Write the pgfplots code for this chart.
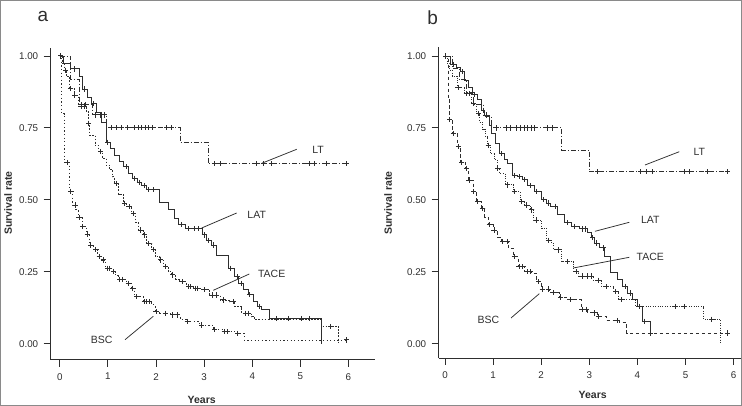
\documentclass[border=0pt]{standalone}
\usepackage{fontspec}
\setmainfont{Liberation Sans}
\usepackage{pgfplots}
\pgfplotsset{compat=1.18}
\definecolor{ink}{HTML}{2E2E2E}
\definecolor{frame}{HTML}{8A8A8A}
\pgfplotsset{
 kmaxis/.style={
  scale only axis, axis x line=bottom, axis y line=left,
  axis line style={-, ink, line width=0.9pt},
  xtick={0,1,2,3,4,5,6}, ytick={0,0.25,0.5,0.75,1},
  yticklabel style={xshift=-2pt, /pgf/number format/.cd, fixed, fixed zerofill, precision=2},
  /pgf/number format/assume math mode=true,
  tick align=outside, major tick length=7pt,
  tick style={ink, line width=0.9pt},
  ticklabel style={font=\fontsize{9.8}{12}\selectfont, text=ink},
  xticklabel style={yshift=-3pt},
  clip=false,
 },
 km/.style={const plot, ink, line width=0.9pt, line cap=butt, mark=none},
 cens/.style={only marks, mark=+, mark size=2.6pt, mark options={ink, solid, line width=0.95pt}},
 ltst/.style={dash pattern=on 5pt off 2pt on 1pt off 2pt},
}
\begin{document}
\begin{tikzpicture}
\useasboundingbox (0,0) rectangle (742pt,406pt);
\draw[frame, line width=1.2pt] (0.6pt,0.6pt) rectangle (741.4pt,405.4pt);

% ---------------- panel a ----------------
\begin{axis}[kmaxis, at={(50.7pt,46.3pt)}, anchor=south west,
  width=324.2pt, height=311.5pt, xmin=-0.19, xmax=6.55, ymin=-0.0556, ymax=1.027]
% LT
\addplot[km, ltst] coordinates {(0,1) (0.22,0.92) (0.40,0.83) (0.68,0.795) (0.97,0.75) (2.50,0.70) (3.08,0.625) (6.0,0.625)};
\addplot[cens] coordinates {(0.45,0.83) (0.53,0.83) (0.75,0.795) (0.84,0.795) (0.92,0.795)
 (1.07,0.75) (1.18,0.75) (1.28,0.75) (1.40,0.75) (1.56,0.75) (1.63,0.75) (1.70,0.75) (1.77,0.75) (1.85,0.75) (1.93,0.75) (2.22,0.75) (2.32,0.75)
 (3.22,0.625) (3.33,0.625) (4.09,0.625) (4.23,0.625) (4.40,0.625) (5.20,0.625) (5.30,0.625) (5.54,0.625) (5.96,0.625)};
% LAT
\addplot[km] coordinates {(0,1) (0.08,0.975) (0.22,0.955) (0.40,0.93) (0.47,0.885) (0.57,0.855) (0.66,0.835) (0.76,0.805) (0.87,0.77) (0.97,0.70) (1.05,0.68) (1.14,0.655) (1.23,0.635) (1.33,0.615) (1.42,0.59) (1.51,0.575) (1.61,0.56) (1.70,0.55) (1.80,0.535) (2.08,0.49) (2.25,0.466) (2.39,0.436) (2.46,0.413) (2.62,0.40) (2.97,0.378) (3.05,0.36) (3.15,0.343) (3.25,0.308) (3.50,0.262) (3.63,0.233) (3.72,0.21) (3.82,0.187) (3.92,0.17) (4.02,0.147) (4.10,0.13) (4.20,0.12) (4.35,0.088) (5.44,0.0)};
\addplot[cens] coordinates {(0.02,1.0) (0.30,0.955) (0.52,0.885) (0.70,0.835) (1.00,0.70) (1.38,0.615) (1.55,0.575) (1.65,0.56) (1.75,0.55) (1.85,0.535) (1.95,0.535) (2.53,0.413) (2.68,0.40) (2.80,0.40) (2.88,0.40) (3.00,0.378) (3.10,0.36) (3.20,0.343) (3.55,0.262) (3.70,0.233) (3.78,0.21) (3.95,0.17) (4.15,0.13) (4.50,0.088) (4.75,0.088) (5.02,0.088) (5.20,0.088)};
% TACE
\addplot[km, dash pattern=on 1.8pt off 1.3pt] coordinates {(0,1) (0.05,0.975) (0.10,0.95) (0.14,0.928) (0.20,0.886) (0.30,0.863) (0.38,0.826) (0.55,0.806) (0.59,0.766) (0.62,0.725) (0.73,0.69) (0.80,0.667) (0.89,0.644) (0.96,0.62) (1.04,0.604) (1.10,0.58) (1.14,0.557) (1.22,0.52) (1.32,0.488) (1.39,0.476) (1.49,0.453) (1.58,0.42) (1.63,0.395) (1.73,0.378) (1.80,0.349) (1.91,0.326) (1.98,0.302) (2.08,0.291) (2.15,0.268) (2.25,0.25) (2.32,0.239) (2.40,0.225) (2.49,0.215) (2.63,0.198) (2.77,0.193) (2.95,0.187) (3.12,0.169) (3.33,0.152) (3.53,0.146) (3.64,0.129) (3.78,0.106) (3.99,0.094) (4.05,0.085) (5.44,0.06) (5.79,0.0)};
\addplot[cens] coordinates {(0.12,0.95) (0.22,0.886) (0.31,0.863) (0.45,0.826) (0.52,0.826) (0.60,0.766) (0.85,0.667) (1.17,0.557) (1.35,0.488) (1.45,0.476) (1.53,0.453) (1.68,0.395) (1.76,0.378) (1.85,0.349) (1.95,0.326) (2.10,0.291) (2.20,0.268) (2.35,0.239) (2.55,0.215) (2.68,0.198) (2.72,0.198) (2.82,0.193) (2.87,0.193) (3.00,0.187) (3.17,0.169) (3.25,0.169) (3.40,0.152) (3.60,0.146) (3.86,0.106) (3.92,0.106) (5.62,0.06)};
% BSC
\addplot[km, dash pattern=on 1.2pt off 2.4pt] coordinates {(0,1) (0.03,0.80) (0.10,0.63) (0.19,0.53) (0.27,0.482) (0.33,0.465) (0.38,0.439) (0.46,0.407) (0.55,0.381) (0.62,0.343) (0.70,0.326) (0.78,0.302) (0.87,0.291) (0.95,0.262) (1.07,0.25) (1.15,0.236) (1.21,0.224) (1.39,0.21) (1.49,0.193) (1.56,0.163) (1.73,0.146) (1.91,0.135) (1.98,0.111) (2.08,0.106) (2.29,0.10) (2.50,0.085) (2.63,0.077) (2.91,0.065) (3.19,0.048) (3.40,0.042) (3.67,0.036) (3.83,0.013) (5.96,0.013)};
\addplot[cens] coordinates {(0.15,0.63) (0.23,0.53) (0.32,0.482) (0.40,0.439) (0.48,0.407) (0.57,0.381) (0.64,0.343) (0.75,0.326) (0.82,0.302) (0.90,0.291) (0.99,0.262) (1.03,0.262) (1.12,0.25) (1.25,0.224) (1.30,0.224) (1.42,0.21) (1.52,0.193) (1.60,0.163) (1.76,0.146) (1.80,0.146) (1.86,0.146) (2.00,0.111) (2.20,0.106) (2.35,0.10) (2.45,0.10) (2.65,0.077) (2.95,0.065) (3.22,0.048) (3.42,0.042) (3.48,0.042) (3.70,0.036) (5.96,0.013)};
\end{axis}

% ---------------- panel b ----------------
\begin{axis}[kmaxis, at={(438.7pt,48pt)}, anchor=south west,
  width=302.1pt, height=310.6pt, xmin=-0.131, xmax=6.15, ymin=-0.0497, ymax=1.03]
% LT
\addplot[km, ltst] coordinates {(0,1) (0.15,0.958) (0.30,0.917) (0.45,0.875) (0.60,0.833) (0.80,0.79) (0.96,0.75) (2.43,0.673) (3.00,0.598) (5.91,0.598)};
\addplot[cens] coordinates {(1.06,0.75) (1.27,0.75) (1.37,0.75) (1.48,0.75) (1.57,0.75) (1.65,0.75) (1.72,0.75) (1.79,0.75) (1.86,0.75) (2.13,0.75) (2.24,0.75)
 (3.17,0.598) (4.07,0.598) (4.18,0.598) (4.32,0.598) (4.98,0.598) (5.08,0.598) (5.46,0.598) (5.88,0.598)};
% LAT
\addplot[km] coordinates {(0,1) (0.12,0.97) (0.23,0.96) (0.32,0.945) (0.40,0.915) (0.49,0.89) (0.58,0.865) (0.67,0.85) (0.75,0.81) (0.83,0.795) (0.92,0.76) (0.97,0.73) (1.04,0.696) (1.13,0.66) (1.23,0.64) (1.30,0.625) (1.41,0.585) (1.51,0.58) (1.61,0.57) (1.72,0.55) (1.86,0.53) (2.00,0.50) (2.10,0.489) (2.20,0.478) (2.34,0.449) (2.48,0.42) (2.62,0.408) (2.79,0.399) (2.97,0.387) (3.04,0.368) (3.10,0.35) (3.21,0.333) (3.31,0.304) (3.44,0.246) (3.59,0.223) (3.69,0.20) (3.80,0.176) (3.90,0.153) (4.00,0.13) (4.11,0.078) (4.28,0.037)};
\addplot[cens] coordinates {(0.02,1.0) (0.18,0.97) (0.36,0.945) (0.62,0.865) (0.86,0.795) (1.18,0.66) (1.45,0.585) (1.55,0.58) (1.66,0.57) (1.78,0.55) (1.90,0.53) (2.05,0.50) (2.15,0.489) (2.30,0.478) (2.55,0.42) (2.70,0.408) (2.85,0.399) (2.92,0.399) (3.07,0.368) (3.15,0.35) (3.30,0.333) (3.75,0.20) (3.85,0.176) (4.05,0.13) (4.15,0.078) (4.28,0.037)};
% TACE
\addplot[km, dash pattern=on 1pt off 1.4pt] coordinates {(0,1) (0.05,0.975) (0.10,0.95) (0.15,0.93) (0.25,0.89) (0.40,0.87) (0.55,0.835) (0.65,0.80) (0.72,0.77) (0.78,0.745) (0.84,0.72) (0.88,0.69) (0.95,0.66) (1.02,0.64) (1.08,0.61) (1.14,0.592) (1.25,0.552) (1.42,0.528) (1.56,0.494) (1.66,0.482) (1.77,0.465) (1.84,0.43) (2.01,0.401) (2.11,0.36) (2.22,0.349) (2.25,0.326) (2.43,0.285) (2.67,0.25) (2.77,0.235) (3.08,0.221) (3.26,0.198) (3.50,0.181) (3.60,0.153) (3.96,0.129) (5.38,0.085) (5.73,0.0)};
\addplot[cens] coordinates {(0.27,0.89) (0.44,0.87) (0.50,0.87) (0.60,0.835) (0.70,0.80) (0.90,0.69) (1.10,0.61) (1.30,0.552) (1.45,0.528) (1.60,0.494) (1.70,0.482) (1.80,0.465) (1.90,0.43) (2.15,0.36) (2.35,0.326) (2.55,0.285) (2.73,0.25) (2.85,0.235) (2.97,0.235) (3.05,0.235) (3.20,0.221) (3.35,0.198) (3.55,0.181) (3.66,0.153) (4.80,0.129) (4.97,0.129) (5.55,0.085)};
% BSC
\addplot[km, dash pattern=on 3.5pt off 2.5pt] coordinates {(0,1) (0.07,0.85) (0.10,0.78) (0.16,0.73) (0.26,0.685) (0.33,0.63) (0.43,0.61) (0.48,0.569) (0.59,0.528) (0.66,0.494) (0.76,0.47) (0.83,0.44) (0.90,0.413) (1.00,0.395) (1.10,0.37) (1.18,0.355) (1.32,0.332) (1.42,0.302) (1.52,0.268) (1.66,0.25) (1.80,0.245) (1.91,0.215) (2.01,0.19) (2.17,0.177) (2.38,0.162) (2.60,0.153) (2.83,0.12) (2.97,0.107) (3.17,0.095) (3.35,0.081) (3.62,0.074) (3.78,0.037) (5.88,0.037)};
\addplot[cens] coordinates {(0.10,0.78) (0.17,0.73) (0.28,0.685) (0.35,0.63) (0.45,0.61) (0.50,0.569) (0.60,0.528) (0.68,0.494) (0.78,0.47) (0.92,0.413) (1.02,0.395) (1.20,0.355) (1.30,0.355) (1.44,0.302) (1.54,0.268) (1.62,0.268) (1.72,0.25) (1.78,0.25) (1.95,0.215) (2.02,0.19) (2.15,0.19) (2.25,0.177) (2.40,0.162) (2.60,0.153) (2.85,0.12) (2.95,0.12) (3.10,0.107) (3.20,0.095) (3.58,0.081) (5.88,0.037)};
\end{axis}

% ---------------- labels & leaders ----------------
\begin{scope}[ink, line width=0.75pt]
\node at (43pt,390pt) {\fontsize{19}{21}\selectfont a};
\node at (432.7pt,388pt) {\fontsize{19}{21}\selectfont b};
\node[rotate=90] at (8pt,203pt) {\fontsize{10.5}{12}\selectfont\bfseries Survival rate};
\node[rotate=90] at (388pt,203pt) {\fontsize{10.5}{12}\selectfont\bfseries Survival rate};
\node at (201.7pt,6.5pt) {\fontsize{10.5}{12}\selectfont\bfseries Years};
\node at (592.7pt,11.3pt) {\fontsize{10.5}{12}\selectfont\bfseries Years};
% panel a
\node at (318pt,256pt) {\fontsize{10.5}{12}\selectfont LT};
\draw (261.7pt,242.7pt) -- (296.7pt,256.7pt);
\node at (256.7pt,191.3pt) {\fontsize{10.5}{12}\selectfont LAT};
\draw (201.7pt,178pt) -- (236.7pt,193pt);
\node at (271.7pt,132pt) {\fontsize{10.5}{12}\selectfont TACE};
\draw (213.3pt,115.7pt) -- (249.3pt,132pt);
\node at (101.7pt,66.3pt) {\fontsize{10.5}{12}\selectfont BSC};
\draw (125pt,66.3pt) -- (153.3pt,89.7pt);
% panel b
\node at (699.3pt,254.3pt) {\fontsize{10.5}{12}\selectfont LT};
\draw (645pt,241pt) -- (679.3pt,254.3pt);
\node at (650.3pt,186.3pt) {\fontsize{10.5}{12}\selectfont LAT};
\draw (595pt,174.7pt) -- (629.3pt,183.7pt);
\node at (650.3pt,148.7pt) {\fontsize{10.5}{12}\selectfont TACE};
\draw (573.3pt,138pt) -- (629.3pt,148.7pt);
\node at (488.3pt,86.3pt) {\fontsize{10.5}{12}\selectfont BSC};
\draw (511pt,88pt) -- (539.3pt,112.3pt);
\end{scope}
\end{tikzpicture}
\end{document}
